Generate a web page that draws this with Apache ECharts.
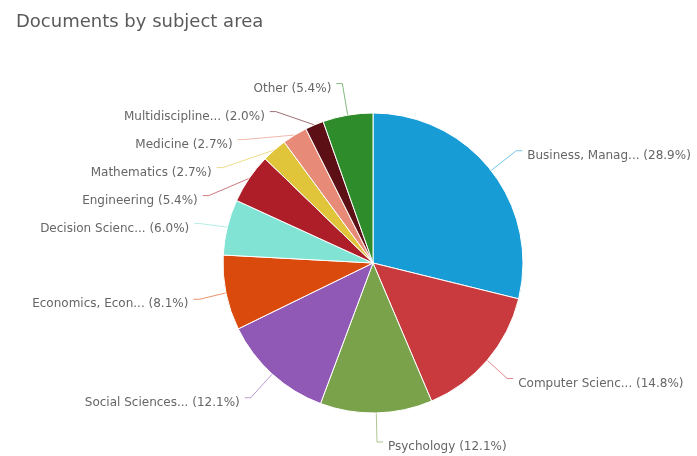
<!DOCTYPE html>
<html>
<head>
<meta charset="utf-8">
<script src="https://cdn.jsdelivr.net/npm/echarts@6/dist/echarts.min.js"></script>
<style>
  html, body { margin: 0; padding: 0; background: #fff; }
  #chart { width: 697px; height: 456px; }
</style>
</head>
<body>
<div id="chart"></div>
<script>
// Subject areas, clockwise from 12 o'clock
const subjects = [
  'Business, Manag...',
  'Computer Scienc...',
  'Psychology',
  'Social Sciences...',
  'Economics, Econ...',
  'Decision Scienc...',
  'Engineering',
  'Mathematics',
  'Medicine',
  'Multidiscipline...',
  'Other'
];
// Share of documents (%)
const shares = [28.9, 14.8, 12.1, 12.1, 8.1, 6.0, 5.4, 2.7, 2.7, 2.0, 5.4];
const sliceColors = [
  '#189cd5', '#c93a3e', '#7aa24a', '#9059b6', '#d94a0c', '#80e3d3',
  '#ad1e29', '#e0c43a', '#e88a78', '#5c1016', '#2f8c2a'
];

const chart = echarts.init(document.getElementById('chart'));
chart.setOption({
  animation: false,
  title: {
    text: 'Documents by subject area',
    left: 11,
    top: 8,
    textStyle: { fontFamily: 'DejaVu Sans', fontSize: 18, fontWeight: 'normal', color: '#5a5a5a' }
  },
  series: [{
    type: 'pie',
    center: [373, 263],
    radius: 150,
    startAngle: 90,
    clockwise: true,
    avoidLabelOverlap: true,
    itemStyle: { borderColor: '#fff', borderWidth: 1 },
    label: {
      fontFamily: 'DejaVu Sans',
      fontSize: 12,
      color: '#666',
      lineHeight: 26,
      overflow: 'none',
      formatter: p => p.name + ' (' + p.value.toFixed(1) + '%)'
    },
    labelLine: {
      length: 32,
      length2: 6,
      lineStyle: { width: 1, opacity: 0.6 }
    },
    labelLayout: { dy: 5 },
    data: subjects.map((name, i) => ({
      name: name,
      value: shares[i],
      itemStyle: { color: sliceColors[i] }
    }))
  }]
});
</script>
</body>
</html>
